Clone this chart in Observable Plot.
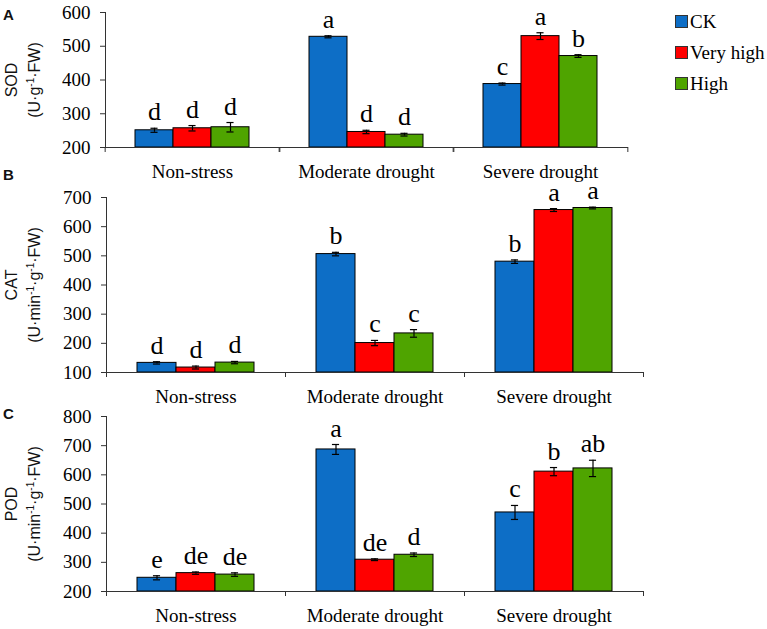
<!DOCTYPE html>
<html><head><meta charset="utf-8">
<script src="https://cdn.jsdelivr.net/npm/d3@7"></script>
<script src="https://cdn.jsdelivr.net/npm/@observablehq/plot@0.6"></script>
<style>
body{margin:0;background:#fff;}
#wrap{position:relative;width:767px;height:629px;overflow:hidden;font-family:"Liberation Serif",serif;background:#fff;}
.panel{position:absolute;left:0;}
.ytitle{position:absolute;width:200px;height:46px;font-family:"Liberation Sans",Arial,sans-serif;font-size:16px;line-height:23px;text-align:center;white-space:nowrap;transform:rotate(-90deg);color:#111;}
.ytitle sup{font-size:10px;vertical-align:6px;line-height:0;}
.tag{position:absolute;left:3px;font-family:"Liberation Sans",Arial,sans-serif;font-weight:bold;font-size:15px;line-height:15px;color:#111;}
.legend{position:absolute;left:675px;top:6px;font-family:"Liberation Serif",serif;font-size:19px;color:#000;}
.legend .row{display:flex;align-items:center;height:31px;}
.legend .sw{width:11px;height:11px;border:1px solid #333;margin-right:2px;}
</style></head>
<body>
<div id="wrap">
  <div class="panel" id="pA" style="top:0px"></div>
  <div class="panel" id="pB" style="top:190px"></div>
  <div class="panel" id="pC" style="top:405px"></div>
  <div class="tag" style="top:7px">A</div>
  <div class="tag" style="top:167px">B</div>
  <div class="tag" style="top:406px">C</div>
  <div class="ytitle" style="left:-77px;top:56.5px">SOD<br>(U·g<sup>-1</sup>·FW)</div>
  <div class="ytitle" style="left:-77px;top:261.5px">CAT<br>(U·min<sup>-1</sup>·g<sup>-1</sup>·FW)</div>
  <div class="ytitle" style="left:-77px;top:480.5px">POD<br>(U·min<sup>-1</sup>·g<sup>-1</sup>·FW)</div>
  <div class="legend" id="legend"></div>
</div>
<script>
const categories = ["Non-stress", "Moderate drought", "Severe drought"];
const series = ["CK", "Very high", "High"];
const colors = ["#0D6EC6", "#FF0000", "#4FA400"];

const sodValues = [[251, 257, 260], [528, 246, 238], [388, 530, 471]];
const sodErrors = [[6, 8, 14], [3, 5, 4], [3, 10, 4]];
const sodLetters = [["d", "d", "d"], ["a", "d", "d"], ["c", "a", "b"]];
const sodTicks = [200, 300, 400, 500, 600];

const catValues = [[133, 117, 134], [506, 201, 234], [480, 657, 664]];
const catErrors = [[4, 5, 4], [6, 9, 13], [6, 5, 3]];
const catLetters = [["d", "d", "d"], ["b", "c", "c"], ["b", "a", "a"]];
const catTicks = [100, 200, 300, 400, 500, 600, 700];

const podValues = [[247, 263, 258], [687, 309, 326], [471, 611, 622]];
const podErrors = [[7, 4, 6], [17, 3, 6], [24, 14, 28]];
const podLetters = [["e", "de", "de"], ["a", "de", "d"], ["c", "b", "ab"]];
const podTicks = [200, 300, 400, 500, 600, 700, 800];

const serif = "'Liberation Serif', 'Times New Roman', serif";

function panel(el, {values, errors, letters, ticks, height, mt, mb, ml, mr}) {
  const rows = [];
  categories.forEach((c, i) => series.forEach((s, j) => rows.push({
    cat: c, series: s, value: values[i][j], err: errors[i][j], letter: letters[i][j]
  })));
  const y0 = ticks[0], yMax = ticks[ticks.length - 1];
  const W = 767;
  const fw = (W - ml - mr) / categories.length;
  const po = 0.745;
  const bw = fw / (series.length + 2 * po);
  const capInset = (bw - 8) / 2;
  const chart = Plot.plot({
    width: W, height, marginTop: mt, marginBottom: mb, marginLeft: ml, marginRight: mr,
    style: {fontFamily: serif, fontSize: "19px", color: "#000", background: "transparent", overflow: "visible"},
    fx: {domain: categories, paddingInner: 0, paddingOuter: 0, label: null, axis: null},
    x: {domain: series, paddingInner: 0, paddingOuter: po, axis: null, label: null},
    y: {domain: [y0, yMax], axis: null, label: null},
    color: {domain: series, range: colors},
    marks: [
      Plot.barY(rows, {fx: "cat", x: "series", y1: () => y0, y2: "value", fill: "series", stroke: "#000", strokeWidth: 1}),
      Plot.ruleX(rows, {fx: "cat", x: "series", y1: d => d.value - d.err, y2: d => d.value + d.err, stroke: "#000", strokeWidth: 1.2}),
      Plot.tickY(rows, {fx: "cat", x: "series", y: d => d.value - d.err, stroke: "#000", strokeWidth: 1.2, inset: capInset}),
      Plot.tickY(rows, {fx: "cat", x: "series", y: d => d.value + d.err, stroke: "#000", strokeWidth: 1.2, inset: capInset}),
      Plot.text(rows, {fx: "cat", x: "series", y: d => d.value + d.err, text: "letter", lineAnchor: "bottom", dy: -8, fontSize: 26, fontFamily: serif, fill: "#000"}),
      Plot.frame({anchor: "bottom", stroke: "#333"}),
      Plot.frame({anchor: "left", stroke: "#333", facetAnchor: "left"}),
      Plot.axisY({ticks, tickSize: 5, tickPadding: 10, fontSize: 19, fontFamily: serif, stroke: "#333", label: null}),
      Plot.axisFx({anchor: "bottom", tickSize: 0, tickPadding: 17, fontSize: 19, fontFamily: serif, label: null}),
      Plot.axisFx({anchor: "bottom", tickSize: 5, dx: -fw / 2, tickFormat: () => "", label: null, stroke: "#333"}),
      Plot.axisFx({anchor: "bottom", tickSize: 5, dx: fw / 2, tickFormat: () => "", label: null, stroke: "#333"})
    ]
  });
  document.getElementById(el).appendChild(chart);
}

panel("pA", {values: sodValues, errors: sodErrors, letters: sodLetters, ticks: sodTicks, height: 190, mt: 12, mb: 43, ml: 104, mr: 139});
panel("pB", {values: catValues, errors: catErrors, letters: catLetters, ticks: catTicks, height: 215, mt: 7, mb: 33, ml: 106, mr: 124});
panel("pC", {values: podValues, errors: podErrors, letters: podLetters, ticks: podTicks, height: 224, mt: 11, mb: 38, ml: 106, mr: 124});

const legend = document.getElementById("legend");
series.forEach((s, i) => {
  const row = document.createElement("div");
  row.className = "row";
  const sw = document.createElement("div");
  sw.className = "sw";
  sw.style.background = colors[i];
  const t = document.createElement("span");
  t.textContent = s;
  row.appendChild(sw); row.appendChild(t);
  legend.appendChild(row);
});
</script>
</body></html>
